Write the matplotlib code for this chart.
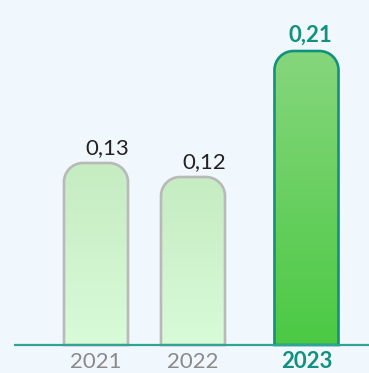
import numpy as np
import matplotlib.pyplot as plt
from matplotlib.colors import to_rgb
from matplotlib.path import Path
from matplotlib.patches import PathPatch
from matplotlib.transforms import IdentityTransform

years = ['2021', '2022', '2023']
values = [0.13, 0.12, 0.21]
value_labels = ['0,13', '0,12', '0,21']
highlight = 2

BG = '#f1f8fd'
TEAL = '#12917f'
GREY_EDGE = '#b9b9b9'
GREY_TEXT = '#8a8a8a'

plt.rcParams['font.family'] = ['Lato', 'DejaVu Sans']

W, H, DPI = 369, 373, 100
fig = plt.figure(figsize=(W / DPI, H / DPI), dpi=DPI, facecolor=BG)
ax = fig.add_axes([0, 0, 1, 1])
ax.set_facecolor(BG)
ax.axis('off')

# x: one unit = 97 px, first bar centred at 96 px; the highlighted bar gets a bit of extra room
x = np.arange(len(years), dtype=float)
x[highlight] += 0.17
xlim = (-96 / 97, (W - 96) / 97)
# y: baseline 28 px above the bottom edge
scale = 1400.0
ylim = (-28 / scale, (H - 28) / scale)
ax.set_xlim(*xlim)
ax.set_ylim(*ylim)

bars = ax.bar(x, values, width=0.66, color='none', edgecolor='none')
fig.canvas.draw()


def rounded_top(x0, y0, x1, y1, r):
    # square bottom, rounded top corners (display coords)
    k = 0.5523 * r
    verts = [(x0, y0), (x0, y1 - r),
             (x0, y1 - r + k), (x0 + r - k, y1), (x0 + r, y1),
             (x1 - r, y1),
             (x1 - r + k, y1), (x1, y1 - r + k), (x1, y1 - r),
             (x1, y0), (x0, y0)]
    codes = [Path.MOVETO, Path.LINETO,
             Path.CURVE4, Path.CURVE4, Path.CURVE4,
             Path.LINETO,
             Path.CURVE4, Path.CURVE4, Path.CURVE4,
             Path.LINETO, Path.CLOSEPOLY]
    return Path(verts, codes)


grad = np.linspace(0, 1, 256)[:, None, None]
for i, rect in enumerate(bars):
    bb = rect.get_window_extent()
    path = rounded_top(bb.x0, bb.y0, bb.x1, bb.y1, 19)
    if i == highlight:
        top_c, bot_c, edge = '#86d67c', '#4bc944', TEAL
    else:
        top_c, bot_c, edge = '#c6ecc2', '#d8fbd8', GREY_EDGE
    c0 = np.array(to_rgb(top_c))
    c1 = np.array(to_rgb(bot_c))
    img = c0 * (1 - grad) + c1 * grad
    img = np.repeat(img, 2, axis=1)
    clip = PathPatch(path, transform=IdentityTransform(), facecolor='none', edgecolor='none')
    ax.add_patch(clip)
    im = ax.imshow(img, extent=(rect.get_x(), rect.get_x() + rect.get_width(), 0, rect.get_height()),
                   aspect='auto', interpolation='bilinear', zorder=2)
    im.set_clip_path(clip)
    ax.add_patch(PathPatch(path, transform=IdentityTransform(), facecolor='none',
                           edgecolor=edge, linewidth=1.9, zorder=3))

    if i == highlight:
        ax.annotate(value_labels[i], (x[i], values[i]), xytext=(3, 6.5), textcoords='offset points',
                    ha='center', va='baseline', fontsize=16, fontweight='bold', color=TEAL)
        ax.annotate(years[i], (x[i], 0), xytext=(0, -16.5), textcoords='offset points',
                    ha='center', va='baseline', fontsize=16, fontweight='bold', color=TEAL)
    else:
        ax.annotate(value_labels[i], (x[i], values[i]), xytext=(8, 6.5), textcoords='offset points',
                    ha='center', va='baseline', fontsize=16, color='#222222')
        ax.annotate(years[i], (x[i], 0), xytext=(0, -16.5), textcoords='offset points',
                    ha='center', va='baseline', fontsize=16, color=GREY_TEXT)

ax.set_xlim(*xlim)
ax.set_ylim(*ylim)

# baseline
ax.plot([(14 - 96) / 97, xlim[1]], [0, 0], color='#2fa394', linewidth=1.6, zorder=4,
        solid_capstyle='butt')

fig.savefig('out.png', dpi=DPI, facecolor=BG)
